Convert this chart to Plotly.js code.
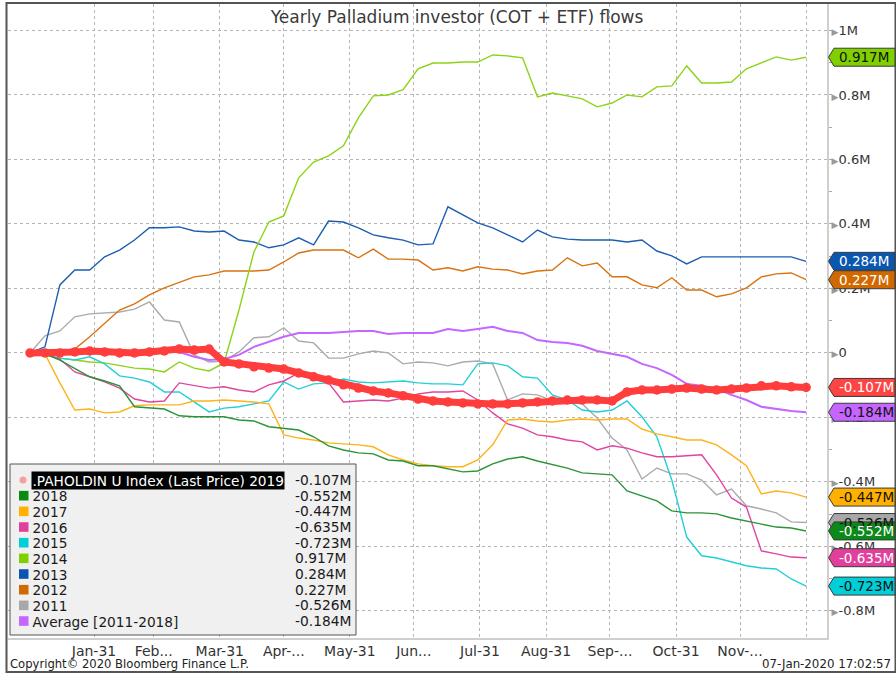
<!DOCTYPE html>
<html>
<head>
<meta charset="utf-8">
<script src="https://cdn.plot.ly/plotly-3.0.1.min.js"></script>
<style>html,body{margin:0;padding:0;background:#fff;}#chart{width:896px;height:673px;}</style>
</head>
<body>
<div id="chart"></div>
<script>
// ---------- DATA (values in millions) ----------
const dates = ['2019-01-01','2019-01-08','2019-01-15','2019-01-22','2019-01-29','2019-02-05','2019-02-12','2019-02-19','2019-02-26','2019-03-05','2019-03-12','2019-03-19','2019-03-26','2019-04-02','2019-04-09','2019-04-16','2019-04-23','2019-04-30','2019-05-07','2019-05-14','2019-05-21','2019-05-28','2019-06-04','2019-06-11','2019-06-18','2019-06-25','2019-07-02','2019-07-09','2019-07-16','2019-07-23','2019-07-30','2019-08-06','2019-08-13','2019-08-20','2019-08-27','2019-09-03','2019-09-10','2019-09-17','2019-09-24','2019-10-01','2019-10-08','2019-10-15','2019-10-22','2019-10-29','2019-11-05','2019-11-12','2019-11-19','2019-11-26','2019-12-03','2019-12-10','2019-12-17','2019-12-24','2019-12-31'];

const s2019 = [0,0,0,0.003,0.006,0.003,0,0,0.003,0.006,0.012,0.009,0.012,-0.028,-0.034,-0.043,-0.047,-0.050,-0.062,-0.074,-0.084,-0.099,-0.109,-0.118,-0.124,-0.133,-0.143,-0.149,-0.152,-0.155,-0.158,-0.158,-0.158,-0.155,-0.152,-0.149,-0.146,-0.146,-0.146,-0.149,-0.121,-0.115,-0.115,-0.112,-0.109,-0.112,-0.115,-0.112,-0.109,-0.102,-0.102,-0.105,-0.107];
const s2018 = [0,-0.003,-0.022,-0.047,-0.074,-0.087,-0.102,-0.167,-0.171,-0.174,-0.195,-0.198,-0.198,-0.198,-0.208,-0.211,-0.229,-0.233,-0.239,-0.260,-0.288,-0.301,-0.310,-0.313,-0.332,-0.335,-0.350,-0.350,-0.360,-0.369,-0.366,-0.344,-0.329,-0.322,-0.335,-0.347,-0.357,-0.372,-0.375,-0.378,-0.428,-0.443,-0.459,-0.490,-0.496,-0.496,-0.499,-0.512,-0.521,-0.530,-0.540,-0.543,-0.552];
const s2017 = [0,-0.003,-0.093,-0.177,-0.174,-0.186,-0.183,-0.164,-0.161,-0.161,-0.161,-0.149,-0.149,-0.146,-0.149,-0.152,-0.158,-0.254,-0.264,-0.270,-0.279,-0.282,-0.285,-0.291,-0.316,-0.332,-0.344,-0.350,-0.353,-0.353,-0.332,-0.285,-0.208,-0.205,-0.211,-0.214,-0.208,-0.205,-0.208,-0.205,-0.205,-0.236,-0.251,-0.260,-0.270,-0.270,-0.285,-0.316,-0.350,-0.437,-0.428,-0.434,-0.447];
const s2016 = [0,-0.003,-0.019,-0.059,-0.074,-0.090,-0.109,-0.143,-0.152,-0.149,-0.093,-0.102,-0.109,-0.105,-0.115,-0.121,-0.099,-0.087,-0.062,-0.081,-0.093,-0.152,-0.149,-0.146,-0.149,-0.140,-0.127,-0.121,-0.121,-0.118,-0.146,-0.186,-0.220,-0.233,-0.254,-0.260,-0.270,-0.276,-0.301,-0.288,-0.295,-0.310,-0.322,-0.322,-0.319,-0.316,-0.378,-0.450,-0.478,-0.614,-0.623,-0.633,-0.635];
const s2015 = [0,-0.006,-0.016,-0.022,-0.012,-0.034,-0.071,-0.078,-0.090,-0.121,-0.121,-0.152,-0.183,-0.171,-0.167,-0.158,-0.149,-0.090,-0.112,-0.096,-0.093,-0.081,-0.090,-0.093,-0.090,-0.087,-0.093,-0.096,-0.096,-0.099,-0.034,-0.031,-0.040,-0.074,-0.078,-0.130,-0.146,-0.177,-0.183,-0.177,-0.149,-0.198,-0.260,-0.394,-0.571,-0.629,-0.636,-0.648,-0.660,-0.667,-0.670,-0.701,-0.723];
const s2014 = [0,-0.009,-0.016,-0.022,-0.028,-0.031,-0.040,-0.047,-0.050,-0.059,-0.028,-0.047,-0.056,-0.031,0.133,0.313,0.406,0.425,0.543,0.592,0.611,0.642,0.729,0.797,0.800,0.816,0.881,0.899,0.899,0.902,0.902,0.924,0.921,0.915,0.794,0.806,0.797,0.788,0.763,0.775,0.800,0.794,0.825,0.828,0.890,0.837,0.837,0.840,0.881,0.900,0.918,0.908,0.917];
const s2013 = [0,0.019,0.211,0.257,0.257,0.298,0.319,0.350,0.388,0.388,0.391,0.378,0.375,0.378,0.350,0.344,0.326,0.335,0.357,0.335,0.409,0.406,0.388,0.366,0.357,0.350,0.335,0.338,0.453,0.428,0.403,0.388,0.366,0.344,0.381,0.360,0.353,0.350,0.350,0.350,0.344,0.350,0.316,0.301,0.276,0.298,0.298,0.298,0.298,0.298,0.298,0.298,0.284];
const s2012 = [0,0.006,0.006,0.012,0.050,0.093,0.133,0.152,0.180,0.202,0.220,0.236,0.242,0.254,0.254,0.254,0.257,0.282,0.310,0.319,0.319,0.319,0.295,0.322,0.291,0.291,0.288,0.257,0.264,0.254,0.267,0.260,0.257,0.245,0.254,0.257,0.295,0.270,0.279,0.236,0.236,0.211,0.202,0.233,0.195,0.195,0.174,0.183,0.202,0.236,0.245,0.248,0.227];
const s2011 = [0,0.053,0.068,0.112,0.121,0.124,0.127,0.136,0.158,0.102,0.096,-0.006,-0.028,-0.025,0.003,0.047,0.050,0.078,0.037,0.031,-0.016,-0.016,-0.003,0.006,0,-0.034,-0.028,-0.031,-0.040,-0.028,-0.025,-0.034,-0.146,-0.127,-0.130,-0.149,-0.155,-0.158,-0.202,-0.264,-0.301,-0.391,-0.357,-0.375,-0.375,-0.394,-0.440,-0.422,-0.474,-0.484,-0.496,-0.524,-0.526];
const sAvg  = [0,0.003,0.009,0.006,0.003,0,0,0.003,0.003,0.003,0.003,-0.012,-0.022,-0.019,-0.006,0.019,0.034,0.050,0.062,0.062,0.062,0.065,0.068,0.068,0.059,0.062,0.062,0.062,0.074,0.068,0.074,0.081,0.068,0.062,0.040,0.034,0.031,0.022,0.006,-0.003,-0.012,-0.034,-0.047,-0.068,-0.096,-0.102,-0.112,-0.130,-0.146,-0.167,-0.174,-0.180,-0.184];

const seriesNames = ['.PAHOLDIN U Index (Last Price) 2019','2018','2017','2016','2015','2014','2013','2012','2011','Average [2011-2018]'];
const xTickVals = ['2019-01-31','2019-02-28','2019-03-31','2019-04-30','2019-05-31','2019-06-30','2019-07-31','2019-08-31','2019-09-30','2019-10-31','2019-11-30','2019-12-31'];
const xTickText = ['Jan-31','Feb...','Mar-31','Apr-...','May-31','Jun...','Jul-31','Aug-31','Sep-...','Oct-31','Nov-...',''];
const yTickVals = [1,0.8,0.6,0.4,0.2,0,-0.2,-0.4,-0.6,-0.8];
const yTickText = ['1M','0.8M','0.6M','0.4M','0.2M','0','-0.2M','-0.4M','-0.6M','-0.8M'];
const chartTitle = 'Yearly Palladium investor (COT + ETF) flows';
const footLeft = 'Copyright\u00a9 2020 Bloomberg Finance L.P.';
const footRight = '07-Jan-2020 17:02:57';

// ---------- STYLE ----------
const seriesData = [s2019,s2018,s2017,s2016,s2015,s2014,s2013,s2012,s2011,sAvg];
const lineColors = ['#ff3d3d','#2a9436','#ffb31a','#e0449e','#22cfd8','#8cd317','#1c5eb0','#d87310','#ababab','#c467ff'];
const legendColors = ['#f4a0a0','#0b8a12','#ffb000','#e0409c','#00cfd8','#80d000','#0a55b0','#d06a00','#a8a8a8','#c466ff'];
const badgeText = ['#ffffff','#ffffff','#111111','#ffffff','#111111','#111111','#ffffff','#ffffff','#111111','#111111'];
const badgeBg = ['#ff4444','#0b8a1a','#ffb000','#e0409c','#00cfd8','#80d000','#0a57b0','#d06a00','#a8a8a8','#c466ff'];

const FONT = 'DejaVu Sans, Verdana, sans-serif';
const Y_MIN = -0.884, Y_MAX = 1.082;
const W = 896, H = 673, PL = 8, PR = 827, PT = 4, PB = 638;
const pxX = px => (px - PL) / (PR - PL);
const pxY = py => (PB - py) / (PB - PT);
const vY = v => (v - Y_MIN) / (Y_MAX - Y_MIN);
const fmt = v => v.toFixed(3) + 'M';

// ---------- TRACES ----------
const drawOrder = [8,7,6,5,4,3,2,1,9,0];
const traces = drawOrder.map(i => {
  const t = {x: dates, y: seriesData[i], type: 'scatter', mode: 'lines', name: seriesNames[i],
    line: {color: lineColors[i], width: i === 9 ? 2 : 1.4}, hoverinfo: 'skip'};
  if (i === 0) {
    t.mode = 'lines+markers';
    t.line = {color: lineColors[0], width: 7};
    t.marker = {color: lineColors[0], size: 9.5};
  }
  return t;
});

// ---------- SHAPES & ANNOTATIONS ----------
const shapes = [];
const annotations = [];

// outer frame
shapes.push({type: 'rect', xref: 'paper', yref: 'paper', x0: pxX(6.5), x1: pxX(895.5), y0: pxY(672), y1: pxY(3),
  line: {color: '#555', width: 2}, fillcolor: 'rgba(0,0,0,0)', layer: 'above'});

// badges (right axis last-value tags)
const badgeOrder = [5,6,7,0,9,2,8,1,3,4];
const hh = 9 / (PB - PT);
badgeOrder.forEach(i => {
  const last = seriesData[i][seriesData[i].length - 1];
  const cy = vY(last);
  const path = 'M' + pxX(828.5) + ',' + cy + ' L' + pxX(834) + ',' + (cy + hh) + ' L' + pxX(895) + ',' + (cy + hh) +
    ' L' + pxX(895) + ',' + (cy - hh) + ' L' + pxX(834) + ',' + (cy - hh) + ' Z';
  shapes.push({type: 'path', xref: 'paper', yref: 'paper', path: path, fillcolor: badgeBg[i],
    line: {color: '#3a3a3a', width: 1}, layer: 'above'});
  annotations.push({xref: 'paper', yref: 'paper', x: pxX(837), y: cy, xanchor: 'left', yanchor: 'middle',
    text: fmt(last), showarrow: false, font: {family: FONT, size: 13.5, color: badgeText[i]}});
});

// legend box
shapes.push({type: 'rect', xref: 'paper', yref: 'paper', x0: pxX(10), x1: pxX(356), y0: pxY(635), y1: pxY(464),
  line: {color: '#555', width: 1}, fillcolor: '#f0f0f0', layer: 'above'});
seriesNames.forEach((nm, i) => {
  const cy = 480 + i * 15.67;
  if (i === 0) {
    shapes.push({type: 'circle', xref: 'paper', yref: 'paper', x0: pxX(19.5), x1: pxX(26.5), y0: pxY(cy + 3.5), y1: pxY(cy - 3.5),
      fillcolor: legendColors[i], line: {width: 0}, layer: 'above'});
  } else {
    shapes.push({type: 'rect', xref: 'paper', yref: 'paper', x0: pxX(19), x1: pxX(28.5), y0: pxY(cy + 4.8), y1: pxY(cy - 4.8),
      fillcolor: legendColors[i], line: {width: 0}, layer: 'above'});
  }
  const a = {xref: 'paper', yref: 'paper', x: pxX(31), y: pxY(cy), xanchor: 'left', yanchor: 'middle',
    text: nm, showarrow: false, font: {family: FONT, size: 13.7, color: '#1a1a1a'}, borderpad: 0.5};
  if (i === 0) { a.bgcolor = '#000'; a.font.color = '#fff'; }
  annotations.push(a);
  const last = seriesData[i][seriesData[i].length - 1];
  annotations.push({xref: 'paper', yref: 'paper', x: pxX(293), y: pxY(cy), xanchor: 'left', yanchor: 'middle',
    text: fmt(last), showarrow: false, font: {family: FONT, size: 13.8, color: '#1a1a1a'}});
});

// footer
annotations.push({xref: 'paper', yref: 'paper', x: pxX(8), y: pxY(664), xanchor: 'left', yanchor: 'middle',
  text: footLeft, showarrow: false, font: {family: FONT, size: 11.6, color: '#222'}});
annotations.push({xref: 'paper', yref: 'paper', x: pxX(893), y: pxY(664), xanchor: 'right', yanchor: 'middle',
  text: footRight, showarrow: false, font: {family: FONT, size: 11.8, color: '#222'}});

const layout = {
  width: W, height: H,
  margin: {l: PL, r: W - PR, t: PT, b: H - PB, pad: 0},
  paper_bgcolor: '#fff', plot_bgcolor: '#fff',
  showlegend: false,
  title: {text: chartTitle, x: 457 / W, xref: 'container', xanchor: 'center', y: 1 - 17 / H, yref: 'container', yanchor: 'middle',
    font: {family: FONT, size: 17, color: '#3a3a3a'}},
  xaxis: {type: 'date', range: ['2018-12-21 16:00', '2020-01-09 19:00'], tickmode: 'array', tickvals: xTickVals, ticktext: xTickText,
    tickfont: {family: FONT, size: 14, color: '#333'}, showgrid: true, gridcolor: '#b5b5b5', griddash: 'dot', gridwidth: 1,
    ticks: '', showline: true, linecolor: '#cfcfcf', linewidth: 1.5, zeroline: false,
    automargin: false, fixedrange: true},
  yaxis: {side: 'right', range: [Y_MIN, Y_MAX], tickmode: 'array', tickvals: yTickVals,
    ticktext: yTickText.map(t => '<span style="font-size:9px;fill:#999">\u25B6</span>' + t),
    tickfont: {family: FONT, size: 13, color: '#333'}, showgrid: true, gridcolor: '#b5b5b5', griddash: 'dot', gridwidth: 1,
    ticks: '', showline: true, linecolor: '#cfcfcf', linewidth: 2, zeroline: false, automargin: false, fixedrange: true,
    minor: {dtick: 0.1, tick0: 0, ticks: 'outside', ticklen: 3, tickcolor: '#aaa', showgrid: false}},
  shapes: shapes,
  annotations: annotations
};

Plotly.newPlot('chart', traces, layout, {staticPlot: true, displayModeBar: false});
</script>
</body>
</html>
